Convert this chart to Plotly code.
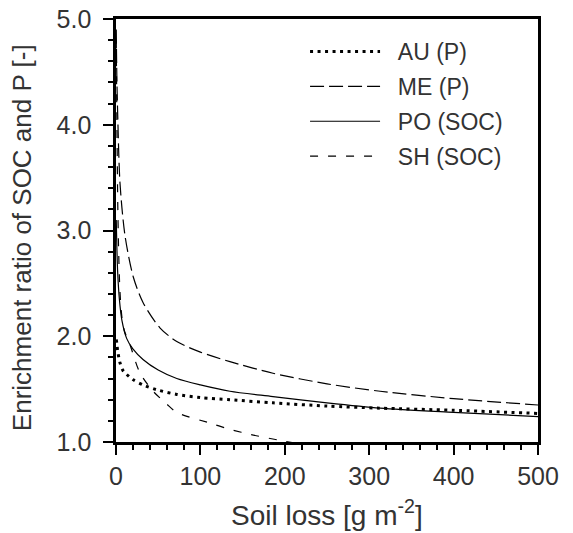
import plotly.graph_objects as go

# Soil loss values [g m-2] and enrichment ratios
au_x = [0.3, 1, 2, 4.7, 8, 12.6, 20, 32, 48, 72, 100, 135, 186, 250, 313, 400, 500]
au_y = [1.97, 1.93, 1.86, 1.75, 1.68, 1.64, 1.59, 1.54, 1.495, 1.45, 1.42, 1.40, 1.37, 1.34, 1.32, 1.30, 1.27]

me_x = [0.3, 1, 2, 4.7, 10.7, 20.5, 32, 52, 72, 100, 135, 186, 250, 313, 400, 500]
me_y = [4.9, 4.45, 4.1, 3.45, 2.95, 2.56, 2.32, 2.08, 1.95, 1.85, 1.76, 1.65, 1.55, 1.48, 1.41, 1.35]

po_x = [0.3, 1, 2, 4, 7, 12.6, 20, 32, 50, 72, 100, 135, 186, 250, 313, 400, 500]
po_y = [3.1, 2.85, 2.6, 2.35, 2.15, 1.98, 1.88, 1.78, 1.68, 1.60, 1.54, 1.48, 1.43, 1.37, 1.32, 1.28, 1.24]

sh_x = [0.3, 1, 2, 3, 4.7, 7, 10, 16.6, 28, 44, 60, 72, 111, 135, 160, 198, 240]
sh_y = [4.8, 4.1, 3.3, 2.85, 2.42, 2.18, 2.05, 1.92, 1.66, 1.48, 1.36, 1.28, 1.18, 1.12, 1.07, 1.01, 0.95]

names = ["AU (P)", "ME (P)", "PO (SOC)", "SH (SOC)"]

x_ticks = [0, 100, 200, 300, 400, 500]
y_ticks = [1.0, 2.0, 3.0, 4.0, 5.0]

x_title = "Soil loss [g m<sup>-2</sup>]"
y_title = "Enrichment ratio of SOC and P [-]"

FONT = "Liberation Sans, Arial, Helvetica, sans-serif"
TXT = "#333333"
GAP = "\u00a0\u00a0"

styles = [
    dict(width=3, dash="3px,4.5px"),
    dict(width=1.2, dash="14px,5px"),
    dict(width=1.2, dash="solid"),
    dict(width=1.2, dash="8px,10px"),
]
series = [(au_x, au_y), (me_x, me_y), (po_x, po_y), (sh_x, sh_y)]

fig = go.Figure()
for (xs, ys), nm, st in zip(series, names, styles):
    fig.add_trace(go.Scatter(x=xs, y=ys, name=GAP + nm, mode="lines", legendgroup=nm,
                             line=dict(color="black", shape="spline", smoothing=0.8, **st)))

fig.update_layout(
    template="none",
    width=573, height=533,
    margin=dict(l=116, r=35, t=19, b=91, autoexpand=False),
    paper_bgcolor="white", plot_bgcolor="white",
    font=dict(family=FONT, color=TXT, size=25),
    showlegend=True,
    legend=dict(x=0.448, y=0.974, xanchor="left", yanchor="top",
                bgcolor="rgba(0,0,0,0)", borderwidth=0,
                font=dict(size=23, color=TXT), itemwidth=70,
                tracegroupgap=2),
    xaxis=dict(range=[x_ticks[0], x_ticks[-1]], dtick=x_ticks[1] - x_ticks[0],
               showline=True, linewidth=2.5, linecolor="black", mirror=True,
               ticks="outside", ticklen=10, tickwidth=2, tickcolor="black",
               minor=dict(ticks="outside", ticklen=5, dtick=20),
               gridcolor="white"),
    yaxis=dict(range=[y_ticks[0], y_ticks[-1]], dtick=y_ticks[1] - y_ticks[0],
               tickformat=".1f", ticksuffix="\u00a0",
               showline=True, linewidth=2.5, linecolor="black", mirror=True,
               ticks="outside", ticklen=10, tickwidth=2, tickcolor="black",
               minor=dict(ticks="outside", ticklen=5, dtick=0.2),
               gridcolor="white"),
    annotations=[
        dict(text=x_title, xref="paper", yref="paper", x=0.5, y=-0.168,
             xanchor="center", yanchor="middle", showarrow=False,
             font=dict(size=28, color=TXT)),
        dict(text=y_title, xref="paper", yref="paper", x=-0.2227, y=0.482,
             xanchor="center", yanchor="middle", showarrow=False, textangle=-90,
             font=dict(size=26, color=TXT)),
    ],
)

fig.write_html("out.html", config={"displayModeBar": False},
               post_script="document.body.style.margin='0';document.body.style.padding='0';")
